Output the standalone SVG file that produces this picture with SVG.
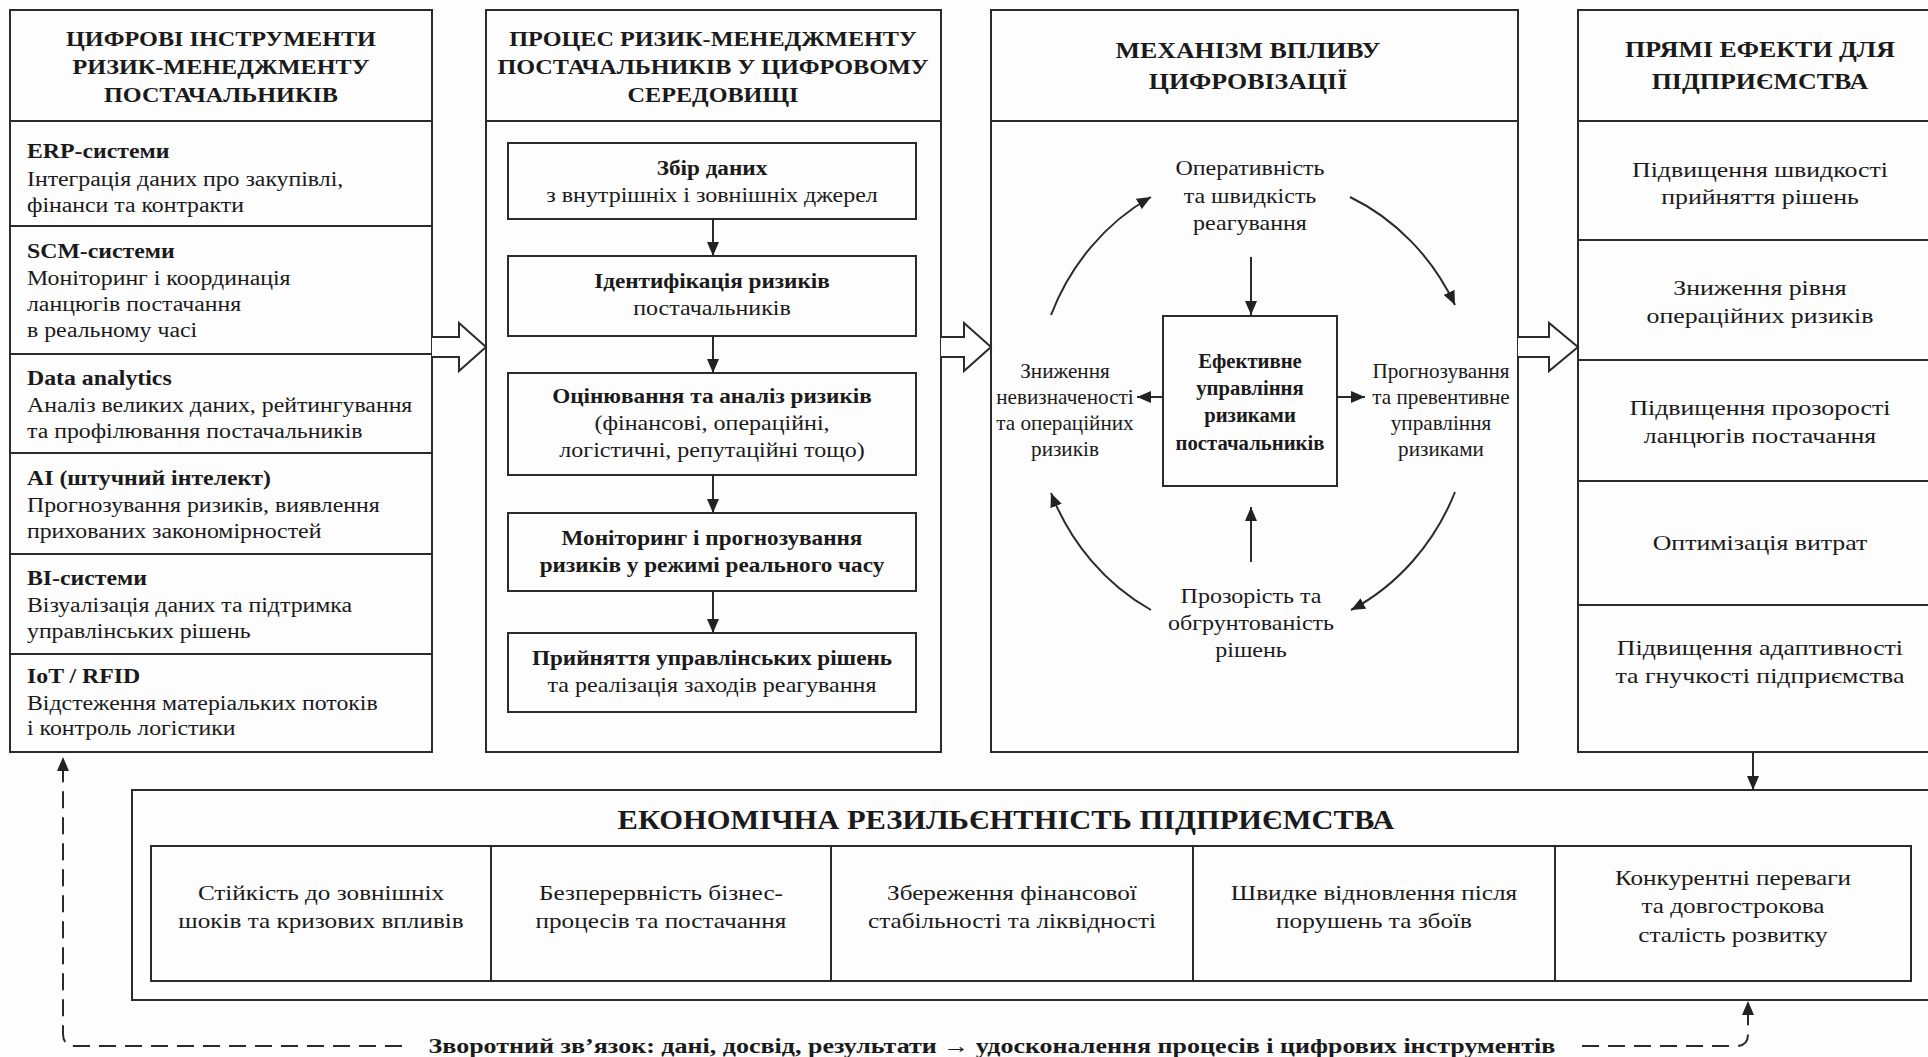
<svg xmlns="http://www.w3.org/2000/svg" width="1928" height="1057" viewBox="0 0 1928 1057">
<style>
.bg{fill:#fdfdfd}
.box{fill:#fdfdfd;stroke:#2b2b2b;stroke-width:2}
.ln{stroke:#2b2b2b;stroke-width:2;fill:none}
.ds{stroke:#2b2b2b;stroke-width:2;fill:none;stroke-dasharray:17 9}
.hol{fill:#fdfdfd;stroke:#2b2b2b;stroke-width:2;stroke-linejoin:miter}
text{font-family:"Liberation Serif","Times New Roman",serif;fill:#1a1a1a;font-size:20px;transform-box:fill-box}
.c{text-anchor:middle;transform-origin:center;transform:scaleX(1.2)}
.cb{text-anchor:middle;font-weight:bold;transform-origin:center;transform:scaleX(1.16)}
.l{transform-origin:left center;transform:scaleX(1.19)}
.lb{font-weight:bold;transform-origin:left center;transform:scaleX(1.19)}
.h{text-anchor:middle;font-size:22px;font-weight:bold;transform-origin:center;transform:scaleX(1.1)}
.h2{text-anchor:middle;font-size:24px;font-weight:bold;transform-origin:center;transform:scaleX(1.08)}
.s{text-anchor:middle;font-size:20px;transform-origin:center;transform:scaleX(1.06)}
.mb{text-anchor:middle;font-size:20.5px;font-weight:bold;transform-origin:center;transform:scaleX(1.01)}
.e{text-anchor:middle;font-size:21px;transform-origin:center;transform:scaleX(1.23)}
.r{text-anchor:middle;font-size:21px;transform-origin:center;transform:scaleX(1.2)}
.big{text-anchor:middle;font-size:27px;font-weight:bold;transform-origin:center;transform:scaleX(1.13)}
.fb{text-anchor:middle;font-size:21px;font-weight:bold;transform-origin:center;transform:scaleX(1.24)}
</style>
<defs>
<marker id="ah" viewBox="0 0 14 12" refX="14" refY="6" markerWidth="14" markerHeight="12" markerUnits="userSpaceOnUse" orient="auto"><path d="M0,0 L14,6 L0,12 z" fill="#222"/></marker>
</defs>
<rect class="bg" x="0" y="0" width="1928" height="1057"/>

<g id="tools">
<rect class="box" x="10" y="10" width="422" height="742"/>
<line class="ln" x1="10" y1="121" x2="432" y2="121"/>
<line class="ln" x1="10" y1="226" x2="432" y2="226"/>
<line class="ln" x1="10" y1="354" x2="432" y2="354"/>
<line class="ln" x1="10" y1="453" x2="432" y2="453"/>
<line class="ln" x1="10" y1="554" x2="432" y2="554"/>
<line class="ln" x1="10" y1="654" x2="432" y2="654"/>
<text class="h" x="221" y="46">ЦИФРОВІ ІНСТРУМЕНТИ</text>
<text class="h" x="221" y="74">РИЗИК-МЕНЕДЖМЕНТУ</text>
<text class="h" x="221" y="102">ПОСТАЧАЛЬНИКІВ</text>
<text class="lb" x="27" y="158">ERP-системи</text>
<text class="l" x="27" y="186">Інтеграція даних про закупівлі,</text>
<text class="l" x="27" y="212">фінанси та контракти</text>
<text class="lb" x="27" y="258">SCM-системи</text>
<text class="l" x="27" y="285">Моніторинг і координація</text>
<text class="l" x="27" y="311">ланцюгів постачання</text>
<text class="l" x="27" y="337">в реальному часі</text>
<text class="lb" x="27" y="385">Data analytics</text>
<text class="l" x="27" y="412">Аналіз великих даних, рейтингування</text>
<text class="l" x="27" y="438">та профілювання постачальників</text>
<text class="lb" x="27" y="485">AI (штучний інтелект)</text>
<text class="l" x="27" y="512">Прогнозування ризиків, виявлення</text>
<text class="l" x="27" y="538">прихованих закономірностей</text>
<text class="lb" x="27" y="585">BI-системи</text>
<text class="l" x="27" y="612">Візуалізація даних та підтримка</text>
<text class="l" x="27" y="638">управлінських рішень</text>
<text class="lb" x="27" y="683">IoT / RFID</text>
<text class="l" x="27" y="710">Відстеження матеріальких потоків</text>
<text class="l" x="27" y="735">і контроль логістики</text>
</g>

<g id="process">
<rect class="box" x="486" y="10" width="455" height="742"/>
<line class="ln" x1="486" y1="121" x2="941" y2="121"/>
<text class="h" x="713" y="46">ПРОЦЕС РИЗИК-МЕНЕДЖМЕНТУ</text>
<text class="h" x="713" y="74">ПОСТАЧАЛЬНИКІВ У ЦИФРОВОМУ</text>
<text class="h" x="713" y="102">СЕРЕДОВИЩІ</text>
</g>
<g id="step1">
<rect class="box" x="508" y="143" width="408" height="76"/>
<text class="cb" x="712" y="175">Збір даних</text>
<text class="c" x="712" y="202">з внутрішніх і зовнішніх джерел</text>
</g>
<g id="step2">
<rect class="box" x="508" y="256" width="408" height="80"/>
<text class="cb" x="712" y="288">Ідентифікація ризиків</text>
<text class="c" x="712" y="315">постачальників</text>
</g>
<g id="step3">
<rect class="box" x="508" y="373" width="408" height="102"/>
<text class="cb" x="712" y="403">Оцінювання та аналіз ризиків</text>
<text class="c" x="712" y="430">(фінансові, операційні,</text>
<text class="c" x="712" y="457">логістичні, репутаційні тощо)</text>
</g>
<g id="step4">
<rect class="box" x="508" y="513" width="408" height="78"/>
<text class="cb" x="712" y="545">Моніторинг і прогнозування</text>
<text class="cb" x="712" y="572">ризиків у режимі реального часу</text>
</g>
<g id="step5">
<rect class="box" x="508" y="633" width="408" height="79"/>
<text class="cb" x="712" y="665">Прийняття управлінських рішень</text>
<text class="c" x="712" y="692">та реалізація заходів реагування</text>
</g>

<g id="mechanism">
<rect class="box" x="991" y="10" width="527" height="742"/>
<line class="ln" x1="991" y1="121" x2="1518" y2="121"/>
<text class="h2" x="1248" y="58">МЕХАНІЗМ ВПЛИВУ</text>
<text class="h2" x="1248" y="89">ЦИФРОВІЗАЦІЇ</text>
</g>
<g id="m-top">
<text class="c" x="1250" y="175">Оперативність</text>
<text class="c" x="1250" y="203">та швидкість</text>
<text class="c" x="1250" y="230">реагування</text>
</g>
<g id="m-center">
<rect class="box" x="1163" y="316" width="174" height="170"/>
<text class="mb" x="1250" y="368">Ефективне</text>
<text class="mb" x="1250" y="395">управління</text>
<text class="mb" x="1250" y="422">ризиками</text>
<text class="mb" x="1250" y="450">постачальників</text>
</g>
<g id="m-left">
<text class="s" x="1065" y="378">Зниження</text>
<text class="s" x="1065" y="404">невизначеності</text>
<text class="s" x="1065" y="430">та операційних</text>
<text class="s" x="1065" y="456">ризиків</text>
</g>
<g id="m-right">
<text class="s" x="1441" y="378">Прогнозування</text>
<text class="s" x="1441" y="404">та превентивне</text>
<text class="s" x="1441" y="430">управління</text>
<text class="s" x="1441" y="456">ризиками</text>
</g>
<g id="m-bottom">
<text class="c" x="1251" y="603">Прозорість та</text>
<text class="c" x="1251" y="630">обгрунтованість</text>
<text class="c" x="1251" y="657">рішень</text>
</g>

<g id="effects">
<rect class="box" x="1578" y="10" width="365" height="742"/>
<line class="ln" x1="1578" y1="121" x2="1943" y2="121"/>
<line class="ln" x1="1578" y1="240" x2="1943" y2="240"/>
<line class="ln" x1="1578" y1="360" x2="1943" y2="360"/>
<line class="ln" x1="1578" y1="481" x2="1943" y2="481"/>
<line class="ln" x1="1578" y1="605" x2="1943" y2="605"/>
<text class="h2" x="1760" y="57">ПРЯМІ ЕФЕКТИ ДЛЯ</text>
<text class="h2" x="1760" y="89">ПІДПРИЄМСТВА</text>
<text class="e" x="1760" y="177">Підвищення швидкості</text>
<text class="e" x="1760" y="204">прийняття рішень</text>
<text class="e" x="1760" y="295">Зниження рівня</text>
<text class="e" x="1760" y="323">операційних ризиків</text>
<text class="e" x="1760" y="415">Підвищення прозорості</text>
<text class="e" x="1760" y="443">ланцюгів постачання</text>
<text class="e" x="1760" y="550">Оптимізація витрат</text>
<text class="e" x="1760" y="655">Підвищення адаптивності</text>
<text class="e" x="1760" y="683">та гнучкості підприємства</text>
</g>

<g id="resilience">
<rect class="box" x="132" y="790" width="1811" height="210"/>
<text class="big" x="1006" y="829">ЕКОНОМІЧНА РЕЗИЛЬЄНТНІСТЬ ПІДПРИЄМСТВА</text>
<rect class="box" x="151" y="846" width="1760" height="135"/>
<line class="ln" x1="491" y1="846" x2="491" y2="981"/>
<line class="ln" x1="831" y1="846" x2="831" y2="981"/>
<line class="ln" x1="1193" y1="846" x2="1193" y2="981"/>
<line class="ln" x1="1555" y1="846" x2="1555" y2="981"/>
<text class="r" x="321" y="900">Стійкість до зовнішніх</text>
<text class="r" x="321" y="928">шоків та кризових впливів</text>
<text class="r" x="661" y="900">Безперервність бізнес-</text>
<text class="r" x="661" y="928">процесів та постачання</text>
<text class="r" x="1012" y="900">Збереження фінансової</text>
<text class="r" x="1012" y="928">стабільності та ліквідності</text>
<text class="r" x="1374" y="900">Швидке відновлення після</text>
<text class="r" x="1374" y="928">порушень та збоїв</text>
<text class="r" x="1733" y="885">Конкурентні переваги</text>
<text class="r" x="1733" y="913">та довгострокова</text>
<text class="r" x="1733" y="942">сталість розвитку</text>
</g>

<g id="connectors">
<path class="hol" d="M432,337 H459 V323 L486,347 L459,371 V357 H432"/>
<path class="hol" d="M941,337 H964 V323 L991,347 L964,371 V357 H941"/>
<path class="hol" d="M1518,337 H1549 V323 L1578,347 L1549,371 V357 H1518"/>
<line class="ln" x1="713" y1="219" x2="713" y2="256" marker-end="url(#ah)"/>
<line class="ln" x1="713" y1="336" x2="713" y2="373" marker-end="url(#ah)"/>
<line class="ln" x1="713" y1="475" x2="713" y2="513" marker-end="url(#ah)"/>
<line class="ln" x1="713" y1="591" x2="713" y2="633" marker-end="url(#ah)"/>
<line class="ln" x1="1251" y1="257" x2="1251" y2="315" marker-end="url(#ah)"/>
<line class="ln" x1="1251" y1="562" x2="1251" y2="507" marker-end="url(#ah)"/>
<line class="ln" x1="1163" y1="397" x2="1137" y2="397" marker-end="url(#ah)"/>
<line class="ln" x1="1337" y1="397" x2="1365" y2="397" marker-end="url(#ah)"/>
<path class="ln" d="M1051,315 A218,234 0 0 1 1151,197" marker-end="url(#ah)"/>
<path class="ln" d="M1350,197 A218,234 0 0 1 1455,305" marker-end="url(#ah)"/>
<path class="ln" d="M1455,492 A218,234 0 0 1 1351,610" marker-end="url(#ah)"/>
<path class="ln" d="M1151,610 A218,234 0 0 1 1051,493" marker-end="url(#ah)"/>
<line class="ln" x1="1753" y1="752" x2="1753" y2="790" marker-end="url(#ah)"/>
<path class="ds" d="M402,1046 H75 Q63,1046 63,1034 V757" marker-end="url(#ah)"/>
<path class="ds" d="M1582,1046 H1736 Q1748,1046 1748,1034 V1001" marker-end="url(#ah)"/>
<text class="fb" x="992" y="1053">Зворотний зв’язок: дані, досвід, результати → удосконалення процесів і цифрових інструментів</text>
</g>
</svg>
